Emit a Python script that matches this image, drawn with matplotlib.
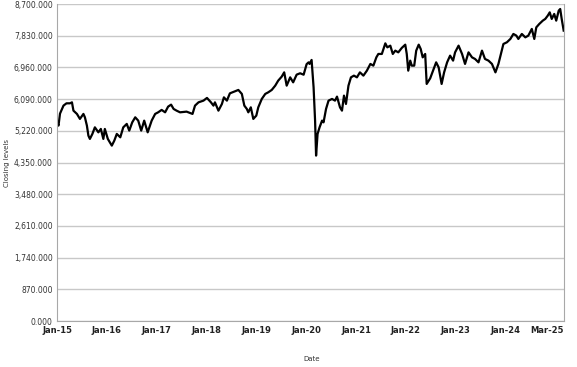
import matplotlib
matplotlib.use("Agg")
import matplotlib.pyplot as plt
import numpy as np
import pandas as pd

# closing levels, time given as decimal year
year_pos = [
    2015.00, 2015.03, 2015.06, 2015.13, 2015.19, 2015.26, 2015.30, 2015.33, 2015.40, 2015.46,
    2015.53, 2015.56, 2015.60, 2015.63, 2015.66, 2015.71, 2015.76, 2015.83, 2015.88, 2015.93,
    2015.96, 2016.02, 2016.06, 2016.10, 2016.15, 2016.20, 2016.27, 2016.33, 2016.40, 2016.45,
    2016.51, 2016.57, 2016.63, 2016.69, 2016.75, 2016.82, 2016.90, 2016.97, 2017.03, 2017.10,
    2017.17, 2017.23, 2017.29, 2017.34, 2017.40, 2017.47, 2017.60, 2017.72, 2017.77, 2017.84,
    2017.94, 2018.01, 2018.09, 2018.14, 2018.17, 2018.24, 2018.31, 2018.35, 2018.41, 2018.47,
    2018.57, 2018.64, 2018.71, 2018.76, 2018.81, 2018.84, 2018.89, 2018.94, 2019.00, 2019.04,
    2019.11, 2019.18, 2019.24, 2019.31, 2019.38, 2019.44, 2019.51, 2019.56, 2019.61, 2019.68,
    2019.74, 2019.81, 2019.88, 2019.95, 2020.01, 2020.05, 2020.07, 2020.11, 2020.15, 2020.18,
    2020.20, 2020.23, 2020.27, 2020.32, 2020.35, 2020.40, 2020.45, 2020.52, 2020.58, 2020.62,
    2020.68, 2020.72, 2020.76, 2020.80, 2020.85, 2020.90, 2020.96, 2021.02, 2021.08, 2021.15,
    2021.22, 2021.29, 2021.35, 2021.41, 2021.45, 2021.52, 2021.59, 2021.63, 2021.69, 2021.74,
    2021.79, 2021.85, 2021.92, 2021.99, 2022.02, 2022.05, 2022.09, 2022.12, 2022.17, 2022.21,
    2022.26, 2022.30, 2022.34, 2022.39, 2022.42, 2022.49, 2022.56, 2022.61, 2022.66, 2022.72,
    2022.77, 2022.83, 2022.89, 2022.95, 2022.99, 2023.06, 2023.13, 2023.19, 2023.26, 2023.33,
    2023.39, 2023.46, 2023.53, 2023.59, 2023.66, 2023.73, 2023.80, 2023.86, 2023.91, 2023.96,
    2024.03, 2024.10, 2024.16, 2024.22, 2024.26, 2024.33, 2024.40, 2024.46, 2024.53, 2024.58,
    2024.62, 2024.68, 2024.75, 2024.80, 2024.85, 2024.89, 2024.93, 2024.98, 2025.02, 2025.07,
    2025.10, 2025.13, 2025.17,
]
closing = [
    5453, 5363, 5692, 5912, 5975, 5975, 6002, 5774, 5684, 5547,
    5684, 5591, 5363, 5088, 4998, 5135, 5316, 5179, 5272, 4998,
    5272, 4998, 4905, 4814, 4951, 5135, 5042, 5316, 5410, 5226,
    5453, 5591, 5500, 5226, 5500, 5179, 5500, 5684, 5728, 5794,
    5728, 5884, 5939, 5821, 5774, 5728, 5747, 5684, 5912, 6002,
    6049, 6123, 6002, 5912, 6002, 5774, 5958, 6139, 6049, 6249,
    6304, 6342, 6233, 5912, 5821, 5728, 5865, 5547, 5637, 5865,
    6095, 6233, 6277, 6342, 6460, 6598, 6707, 6825, 6460, 6688,
    6551, 6762, 6800, 6760, 7050, 7100, 7056, 7166, 6414, 5500,
    4540, 5135, 5316, 5500, 5453, 5821, 6049, 6095, 6049, 6159,
    5865, 5774, 6186, 5958, 6460, 6688, 6735, 6688, 6825, 6735,
    6872, 7056, 7009, 7237, 7330, 7330, 7621, 7511, 7558, 7330,
    7421, 7374, 7495, 7585, 7330, 6872, 7147, 7009, 7009, 7421,
    7585, 7467, 7237, 7330, 6507, 6660, 6919, 7100, 6963, 6507,
    6825, 7100, 7284, 7147, 7374, 7558, 7330, 7056, 7374, 7237,
    7193, 7100, 7421, 7193, 7147, 7056, 6825, 7056, 7330, 7604,
    7650, 7742, 7879, 7833, 7742, 7879, 7786, 7833, 8017, 7742,
    8060, 8153, 8244, 8291, 8381, 8472, 8291, 8428, 8244, 8518,
    8564, 8291, 7970,
]
tick_labels = ["Jan-15", "Jan-16", "Jan-17", "Jan-18", "Jan-19", "Jan-20",
               "Jan-21", "Jan-22", "Jan-23", "Jan-24", "Mar-25"]

start = pd.Timestamp("2015-01-01")
dates = start + pd.to_timedelta((np.array(year_pos) - 2015) * 365.25, unit="D")
end = pd.Timestamp("2025-03-06")

fig = plt.figure(figsize=(5.77, 3.67), dpi=100)
ax = fig.add_axes([0.0988, 0.1253, 0.8787, 0.8637])

ax.plot(dates, closing, color="black", lw=1.6)

ax.set_xlim(start, end)
ax.set_ylim(0, 8700)
yt = np.arange(0, 8701, 870)
ax.set_yticks(yt)
ax.set_yticklabels([f"{v:,.3f}" for v in yt], fontsize=5.5, color="#333333")
ax.grid(True, axis="y", color="#c8c8c8", lw=1)
ax.set_axisbelow(True)

xt = [pd.Timestamp(f"20{l[-2:]}-01-01") for l in tick_labels[:-1]] + [end]
ax.set_xticks(xt)
ax.set_xticklabels(tick_labels, fontsize=6, fontweight="bold", color="#222222")
ax.get_xticklabels()[-1].set_horizontalalignment("right")
ax.tick_params(length=0)
ax.tick_params(axis="x", pad=3.5)
ax.tick_params(axis="y", pad=3)

for s in ["left", "bottom", "right"]:
    ax.spines[s].set_color("#a8a8a8")
ax.spines["top"].set_visible(False)

ax.set_ylabel("Closing levels", fontsize=5, color="#333333", labelpad=3)
fig.text(0.54, 0.022, "Date", fontsize=5, color="#333333", ha="center", va="center")

fig.savefig("out.png", dpi=100)
